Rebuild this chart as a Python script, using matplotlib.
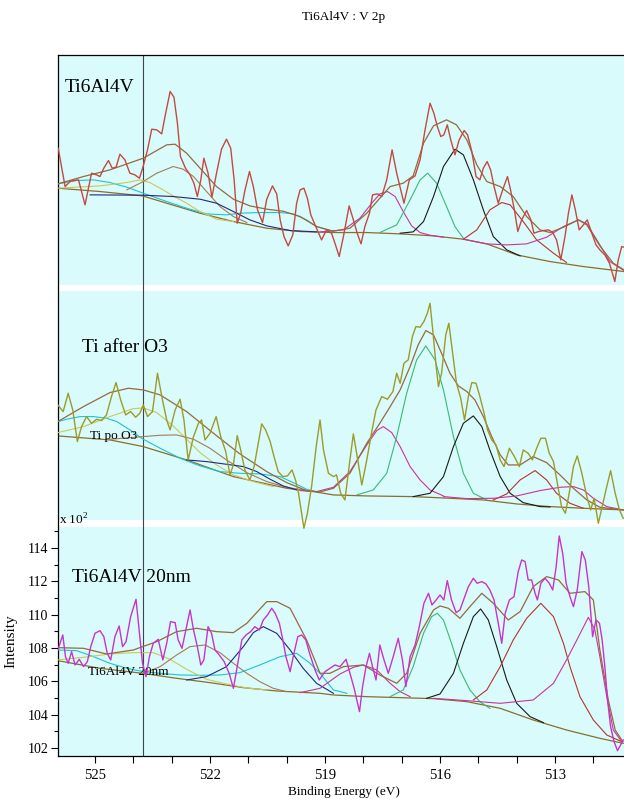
"""
Stacked V 2p XPS spectra (Ti6Al4V) with peak-fit components, CasaXPS style.
"""

import matplotlib

matplotlib.use("Agg")
import matplotlib.pyplot as plt
from matplotlib.ticker import FixedLocator

plt.rcParams["font.family"] = ["Liberation Serif", "DejaVu Serif"]
plt.rcParams["mathtext.fontset"] = "custom"
plt.rcParams["mathtext.rm"] = "Liberation Serif"

TITLE = "Ti6Al4V : V 2p"
XLABEL = "Binding Energy (eV)"
YLABEL = "Intensity"
SCALE_LABEL = r"x 10$^{\mathrm{2}}$"

X_MAJOR = [525, 522, 519, 516, 513]
X_MINOR = list(range(512, 527))
Y_MAJOR = [102, 104, 106, 108, 110, 112, 114]
Y_MINOR = [103, 105, 107, 109, 111, 113, 115]

MARKER_ENERGY = 523.75

PANEL_NAMES = ["Ti6Al4V", "Ti after O3", "Ti6Al4V 20nm"]
REGION_NAMES = ["", "Ti po O3", "Ti6Al4V 20nm"]

# ---------------- panel 1 : Ti6Al4V (binding energy eV, counts x100) ----------------
raw1 = [(525.96, 137.98), (525.78, 135.68), (525.65, 135.98), (525.55, 136.04), (525.43, 136.08),
        (525.26, 134.58), (525.09, 136.48), (524.96, 136.38), (524.87, 136.28), (524.77, 136.78),
        (524.65, 137.24), (524.55, 136.78), (524.45, 136.84), (524.35, 137.62), (524.22, 137.28),
        (524.09, 136.48), (523.96, 136.38), (523.84, 136.18), (523.74, 136.92), (523.63, 137.88),
        (523.52, 139.12), (523.39, 139.08), (523.26, 138.84), (523.16, 140.04), (523.04, 141.38),
        (522.94, 141.04), (522.85, 139.48), (522.77, 137.48), (522.64, 136.78), (522.52, 136.38),
        (522.42, 135.88), (522.33, 135.08), (522.24, 136.08), (522.16, 137.38), (522.05, 136.48),
        (521.95, 135.04), (521.83, 136.48), (521.70, 137.92), (521.57, 138.52), (521.46, 137.98),
        (521.37, 136.08), (521.29, 133.48), (521.20, 134.08), (521.09, 135.44), (520.97, 136.58),
        (520.87, 135.68), (520.76, 134.28), (520.63, 133.52), (520.52, 134.92), (520.37, 135.72),
        (520.26, 135.24), (520.17, 133.68), (520.07, 132.68), (519.96, 132.12), (519.84, 132.78),
        (519.74, 134.68), (519.65, 135.48), (519.55, 135.58), (519.46, 134.98), (519.37, 133.98),
        (519.26, 133.38), (519.09, 132.48), (518.96, 133.08), (518.83, 132.88), (518.74, 132.28),
        (518.63, 131.48), (518.52, 132.68), (518.37, 134.52), (518.26, 133.68), (518.16, 132.88),
        (518.06, 132.24), (517.96, 133.28), (517.84, 134.08), (517.76, 135.18), (517.63, 135.24),
        (517.52, 135.08), (517.39, 136.08), (517.25, 137.88), (517.13, 136.48), (516.94, 134.68),
        (516.80, 136.08), (516.65, 136.32), (516.52, 137.28), (516.39, 139.08), (516.26, 140.68),
        (516.16, 140.08), (516.07, 139.28), (515.98, 138.68), (515.90, 138.78), (515.81, 139.38),
        (515.72, 138.48), (515.61, 137.58), (515.50, 138.48), (515.37, 139.04), (515.28, 138.78),
        (515.17, 137.78), (515.06, 136.28), (514.96, 136.08), (514.87, 136.78), (514.77, 137.18),
        (514.68, 136.68), (514.59, 135.68), (514.48, 134.68), (514.35, 135.58), (514.24, 136.28),
        (514.16, 135.48), (514.06, 134.28), (513.97, 132.98), (513.87, 133.68), (513.74, 134.24),
        (513.63, 133.68), (513.55, 132.88), (513.43, 132.98), (513.30, 133.04), (513.17, 133.08),
        (513.06, 132.92), (512.96, 132.48), (512.85, 131.28), (512.74, 132.68), (512.65, 134.08),
        (512.56, 135.18), (512.47, 134.28), (512.37, 133.08), (512.26, 133.38), (512.16, 133.68),
        (512.04, 132.88), (511.93, 132.18), (511.83, 131.88), (511.70, 131.58), (511.58, 131.08),
        (511.44, 129.98), (511.35, 131.28), (511.26, 132.08), (511.20, 132.04)]
bg1 = [(525.97, 135.58), (524.87, 135.38), (523.76, 135.12), (523.13, 134.68), (522.26, 134.08),
       (521.39, 133.58), (520.52, 133.18), (519.65, 132.98), (518.78, 132.92), (517.91, 132.92),
       (517.04, 132.84), (516.17, 132.72), (515.39, 132.52), (514.78, 132.24), (514.00, 131.58),
       (513.13, 131.18), (512.26, 130.88), (511.20, 130.58)]
env1 = [(525.97, 135.84), (525.30, 136.28), (524.61, 136.68), (523.74, 137.38), (523.13, 138.18),
        (522.91, 138.22), (522.61, 137.68), (522.26, 136.78), (521.83, 135.68), (521.39, 134.92),
        (520.96, 134.52), (520.52, 134.32), (520.09, 134.20), (519.65, 133.88), (519.22, 133.28),
        (518.78, 133.00), (518.35, 133.18), (517.91, 134.08), (517.57, 134.98), (517.30, 135.68),
        (516.96, 135.88), (516.70, 136.32), (516.43, 138.28), (516.17, 139.32), (515.83, 139.68),
        (515.57, 139.38), (515.30, 138.48), (515.04, 136.98), (514.78, 135.98), (514.43, 135.68),
        (514.09, 135.08), (513.74, 133.88), (513.39, 133.08), (513.13, 132.92), (512.78, 133.24),
        (512.39, 133.68), (512.17, 133.38), (511.83, 132.12), (511.48, 131.08), (511.20, 130.68)]
p1_cyan = [(525.97, 135.84), (525.48, 136.04), (525.04, 136.08), (524.61, 135.92), (524.17, 135.64),
           (523.74, 135.28), (523.13, 134.78), (522.61, 134.38), (522.09, 134.04), (521.57, 133.98),
           (521.22, 134.08), (520.70, 134.12), (520.17, 134.12), (519.83, 134.04), (519.48, 133.68),
           (519.22, 133.28), (518.78, 132.98)]
p1_yellow = [(525.97, 135.58), (524.87, 135.72), (524.17, 135.92), (523.83, 136.08), (523.57, 135.92),
             (523.30, 135.58), (522.96, 135.12), (522.61, 134.68), (522.26, 134.18), (521.83, 133.72),
             (521.39, 133.58)]
p1_brown = [(524.17, 135.48), (523.74, 135.98), (523.39, 136.48), (522.96, 136.88), (522.70, 136.72),
            (522.43, 136.28), (522.09, 135.38), (521.74, 134.48), (521.39, 133.88), (521.04, 133.52)]
p1_navy = [(525.13, 135.18), (523.74, 135.16), (522.96, 135.08), (522.26, 134.92), (521.83, 134.68),
           (521.39, 134.18), (520.96, 133.68), (520.52, 133.32), (519.91, 133.04), (519.22, 132.96)]
p1_pink = [(519.13, 132.96), (518.52, 133.08), (518.09, 133.78), (517.78, 134.68), (517.57, 135.24),
           (517.37, 135.38), (517.17, 135.08), (516.96, 134.18), (516.74, 133.32), (516.52, 132.92),
           (516.26, 132.76), (515.91, 132.64)]
p1_green = [(517.57, 132.92), (517.13, 133.38), (516.78, 134.88), (516.52, 136.08), (516.32, 136.48),
            (516.09, 135.88), (515.83, 134.48), (515.61, 133.28), (515.39, 132.58)]
p1_black = [(517.04, 132.88), (516.70, 132.96), (516.43, 133.58), (516.17, 135.08), (515.91, 136.88),
            (515.61, 137.92), (515.39, 137.58), (515.13, 136.08), (514.87, 134.28), (514.61, 132.68),
            (514.26, 131.88), (513.91, 131.52)]
p1_red = [(515.39, 132.52), (515.04, 133.08), (514.70, 134.28), (514.39, 134.72), (514.17, 134.58),
          (513.83, 133.58), (513.48, 132.48), (513.04, 131.68), (512.70, 131.12)]
p1_magenta = [(515.39, 132.52), (514.78, 132.24), (514.26, 132.18), (513.74, 132.24), (513.22, 132.64),
              (512.78, 133.28), (512.39, 133.68), (512.17, 133.44), (511.91, 132.48), (511.57, 131.18),
              (511.20, 130.64)]

# ---------------- panel 2 : Ti after O3 ----------------
raw2 = [(525.97, 122.58), (525.83, 122.18), (525.70, 123.28), (525.58, 122.28), (525.46, 120.38),
        (525.35, 121.28), (525.22, 121.88), (525.09, 121.48), (524.96, 121.72), (524.83, 121.64),
        (524.70, 121.98), (524.57, 123.08), (524.45, 123.92), (524.33, 122.88), (524.20, 121.98),
        (524.07, 122.18), (523.94, 121.84), (523.83, 122.08), (523.74, 122.58), (523.63, 121.88),
        (523.50, 122.18), (523.37, 124.48), (523.24, 122.88), (523.13, 121.68), (523.04, 121.08),
        (522.91, 122.28), (522.78, 122.92), (522.68, 121.68), (522.57, 119.28), (522.43, 120.68),
        (522.30, 121.48), (522.22, 121.68), (522.13, 120.48), (522.00, 120.88), (521.84, 121.88),
        (521.72, 120.68), (521.59, 119.78), (521.48, 118.38), (521.39, 118.98), (521.29, 120.74),
        (521.20, 119.88), (521.09, 118.68), (520.96, 118.08), (520.85, 118.88), (520.74, 120.28),
        (520.65, 121.44), (520.55, 121.08), (520.43, 120.38), (520.33, 119.48), (520.22, 118.58),
        (520.10, 118.28), (519.98, 118.32), (519.86, 118.68), (519.77, 118.08), (519.69, 117.28),
        (519.61, 116.08), (519.55, 115.18), (519.46, 116.08), (519.35, 117.68), (519.23, 120.08),
        (519.13, 121.68), (519.04, 119.88), (518.91, 118.48), (518.78, 118.28), (518.70, 118.38),
        (518.59, 117.28), (518.48, 116.88), (518.35, 119.28), (518.26, 120.84), (518.16, 119.48),
        (518.04, 117.78), (517.91, 119.28), (517.78, 120.98), (517.67, 122.28), (517.52, 123.08),
        (517.37, 122.92), (517.23, 123.38), (517.13, 124.48), (517.04, 123.88), (516.94, 125.08),
        (516.83, 125.28), (516.72, 126.68), (516.63, 127.28), (516.52, 127.24), (516.42, 127.58),
        (516.33, 128.08), (516.26, 128.68), (516.19, 127.08), (516.10, 124.88), (516.04, 123.68),
        (515.96, 124.48), (515.85, 126.78), (515.77, 127.48), (515.67, 125.68), (515.57, 123.88),
        (515.46, 122.98), (515.36, 121.68), (515.26, 123.08), (515.17, 123.92), (515.06, 123.88),
        (514.96, 123.08), (514.85, 122.08), (514.76, 121.08), (514.65, 120.48), (514.54, 120.18),
        (514.43, 119.28), (514.33, 118.88), (514.19, 119.98), (514.06, 119.48), (513.93, 118.88),
        (513.83, 119.88), (513.70, 119.68), (513.59, 119.28), (513.48, 119.98), (513.37, 120.58),
        (513.25, 120.58), (513.15, 119.68), (513.04, 119.18), (512.94, 117.88), (512.83, 116.48),
        (512.73, 116.08), (512.63, 117.28), (512.52, 118.88), (512.42, 119.52), (512.30, 118.48),
        (512.17, 117.08), (512.07, 116.28), (511.98, 116.98), (511.87, 115.48), (511.77, 116.48),
        (511.65, 117.68), (511.55, 118.64), (511.43, 117.28), (511.32, 116.28), (511.22, 115.78)]
bg2 = [(525.97, 120.72), (524.61, 120.48), (523.74, 120.08), (522.61, 119.28), (521.39, 118.28),
       (520.00, 117.58), (519.30, 117.38), (518.78, 117.18), (517.91, 117.12), (516.70, 117.08),
       (515.74, 116.98), (514.87, 116.88), (514.00, 116.64), (513.13, 116.48), (512.26, 116.38),
       (511.22, 116.28)]
env2 = [(525.97, 121.58), (525.30, 122.48), (524.61, 123.32), (524.13, 123.58), (523.74, 123.48),
        (523.30, 123.18), (522.61, 122.18), (521.91, 120.88), (521.22, 119.64), (520.52, 118.58),
        (520.00, 117.92), (519.48, 117.44), (519.13, 117.36), (518.78, 117.58), (518.35, 118.48),
        (517.91, 120.28), (517.57, 121.48), (517.30, 122.48), (517.04, 123.48), (516.78, 124.88),
        (516.57, 126.18), (516.37, 127.04), (516.17, 126.78), (515.96, 125.68), (515.74, 124.48),
        (515.52, 123.72), (515.30, 123.38), (515.09, 122.88), (514.87, 121.88), (514.65, 120.68),
        (514.43, 119.58), (514.22, 118.98), (513.91, 118.98), (513.57, 119.48), (513.22, 119.12),
        (512.87, 118.38), (512.52, 117.58), (512.17, 116.88), (511.83, 116.44), (511.22, 116.28)]
p2_cyan = [(525.97, 121.58), (525.74, 121.72), (525.39, 121.88), (525.04, 121.88), (524.70, 121.78),
           (524.43, 121.58), (524.09, 121.08), (523.74, 120.52), (523.30, 119.98), (522.78, 119.38),
           (522.26, 118.92), (521.74, 118.58), (521.22, 118.48), (520.70, 118.44), (520.17, 118.28),
           (519.83, 117.92), (519.48, 117.52), (519.22, 117.36)]
p2_yellow = [(525.97, 120.92), (525.30, 121.28), (524.61, 121.88), (524.00, 122.36), (523.74, 122.40),
             (523.39, 122.12), (522.96, 121.32), (522.61, 120.52), (522.26, 119.72), (521.83, 118.98),
             (521.39, 118.38), (520.87, 117.98), (520.35, 117.68)]
p2_brown = [(524.61, 120.52), (523.74, 120.68), (523.30, 120.76), (522.87, 120.78), (522.43, 120.52),
            (522.00, 119.98), (521.57, 119.28), (521.04, 118.52), (520.52, 117.98), (520.00, 117.64),
            (519.48, 117.44)]
p2_navy = [(522.61, 119.28), (522.09, 119.18), (521.57, 119.02), (521.13, 118.88), (520.78, 118.58),
           (520.43, 118.12), (520.09, 117.72), (519.74, 117.48)]
p2_pink = [(519.65, 117.44), (519.22, 117.38), (518.78, 117.64), (518.35, 118.58), (517.91, 120.18),
           (517.65, 121.04), (517.48, 121.28), (517.26, 120.92), (517.04, 120.08), (516.78, 118.88),
           (516.52, 118.08), (516.26, 117.48), (515.91, 117.12)]
p2_green = [(518.17, 117.18), (517.74, 117.48), (517.39, 118.48), (517.13, 120.68), (516.87, 123.28),
            (516.61, 125.28), (516.37, 126.12), (516.13, 125.28), (515.91, 123.48), (515.65, 120.68),
            (515.39, 118.48), (515.13, 117.28), (514.78, 116.88)]
p2_black = [(516.70, 117.08), (516.26, 117.28), (515.91, 118.28), (515.65, 120.08), (515.39, 121.48),
            (515.13, 121.92), (514.91, 121.28), (514.70, 119.88), (514.43, 118.28), (514.17, 117.28),
            (513.83, 116.72), (513.39, 116.48), (513.13, 116.46)]
p2_red = [(514.61, 116.88), (514.26, 117.24), (513.91, 118.08), (513.52, 118.64), (513.22, 118.08),
          (512.96, 117.28), (512.61, 116.68), (512.26, 116.38)]
p2_magenta = [(515.91, 117.08), (515.30, 116.96), (514.61, 116.98), (514.00, 117.12), (513.39, 117.44),
              (512.87, 117.64), (512.52, 117.68), (512.26, 117.48), (512.00, 116.98), (511.65, 116.48),
              (511.22, 116.28)]

# ---------------- panel 3 : Ti6Al4V 20nm ----------------
raw3 = [(525.97, 107.88), (525.84, 108.78), (525.77, 107.48), (525.70, 107.08), (525.61, 107.78),
        (525.52, 106.98), (525.41, 107.32), (525.30, 106.88), (525.20, 107.18), (525.11, 108.08),
        (525.00, 108.88), (524.87, 109.04), (524.77, 108.68), (524.68, 107.68), (524.59, 107.28),
        (524.48, 108.68), (524.37, 109.32), (524.28, 108.08), (524.19, 108.38), (524.07, 109.88),
        (523.93, 110.92), (523.84, 108.88), (523.76, 107.08), (523.67, 106.28), (523.58, 107.48),
        (523.48, 108.28), (523.35, 108.52), (523.23, 107.28), (523.13, 108.28), (523.03, 109.58),
        (522.91, 109.52), (522.83, 108.48), (522.73, 107.98), (522.63, 109.08), (522.52, 110.28),
        (522.43, 109.08), (522.33, 108.08), (522.24, 106.98), (522.16, 107.28), (522.05, 109.28),
        (521.96, 108.88), (521.87, 107.88), (521.76, 107.58), (521.63, 107.18), (521.50, 106.48),
        (521.39, 105.58), (521.29, 106.88), (521.17, 108.48), (521.06, 108.78), (520.94, 108.98),
        (520.83, 109.28), (520.71, 109.08), (520.61, 109.68), (520.50, 109.98), (520.39, 110.38),
        (520.30, 110.08), (520.19, 109.48), (520.10, 108.48), (520.02, 107.48), (519.91, 106.58),
        (519.81, 107.68), (519.71, 108.68), (519.61, 108.78), (519.50, 108.48), (519.39, 107.58),
        (519.26, 106.68), (519.15, 106.08), (519.00, 106.58), (518.87, 106.78), (518.74, 106.98),
        (518.61, 106.88), (518.45, 107.32), (518.35, 106.48), (518.24, 105.58), (518.10, 104.18),
        (518.02, 105.68), (517.93, 106.88), (517.84, 107.68), (517.76, 106.88), (517.67, 106.08),
        (517.57, 108.18), (517.46, 107.28), (517.35, 106.48), (517.22, 107.48), (517.09, 108.58),
        (516.98, 107.28), (516.89, 105.68), (516.78, 107.48), (516.65, 108.18), (516.54, 109.28),
        (516.42, 110.68), (516.30, 111.28), (516.21, 110.58), (516.10, 110.88), (516.00, 111.18),
        (515.90, 110.88), (515.81, 112.04), (515.70, 110.88), (515.58, 110.12), (515.48, 110.28),
        (515.37, 110.98), (515.26, 111.68), (515.13, 112.18), (515.03, 111.88), (514.91, 111.98),
        (514.80, 111.84), (514.70, 111.48), (514.59, 110.88), (514.48, 109.48), (514.39, 108.28),
        (514.30, 110.08), (514.19, 110.88), (514.07, 111.08), (513.96, 112.58), (513.87, 113.28),
        (513.78, 113.18), (513.70, 112.08), (513.61, 112.08), (513.52, 111.28), (513.46, 110.88),
        (513.37, 111.88), (513.26, 112.18), (513.15, 111.88), (513.06, 111.48), (512.97, 112.88),
        (512.89, 114.72), (512.80, 113.68), (512.71, 111.88), (512.61, 111.08), (512.52, 110.48),
        (512.42, 111.48), (512.30, 113.78), (512.21, 113.28), (512.12, 111.68), (512.02, 108.68),
        (511.93, 109.68), (511.84, 109.48), (511.77, 108.48), (511.70, 106.88), (511.63, 104.88),
        (511.55, 103.28), (511.46, 102.38), (511.37, 101.84), (511.29, 102.18), (511.22, 102.48)]
bg3 = [(525.97, 107.24), (524.87, 106.78), (523.76, 106.48), (522.87, 106.18), (522.00, 105.92),
       (521.13, 105.62), (520.26, 105.42), (519.13, 105.28), (518.78, 105.18), (517.91, 105.08),
       (517.04, 105.02), (516.17, 104.96), (515.30, 104.78), (514.43, 104.38), (513.57, 103.68),
       (512.70, 103.08), (511.83, 102.58), (511.22, 102.28)]
env3 = [(525.97, 108.02), (525.30, 107.98), (524.70, 107.64), (524.00, 107.88), (523.39, 108.38),
        (522.87, 108.98), (522.35, 109.18), (521.83, 108.98), (521.39, 108.92), (521.04, 109.48),
        (520.52, 110.78), (520.26, 110.78), (519.91, 110.38), (519.48, 108.48), (519.13, 106.48),
        (518.87, 106.48), (518.52, 106.88), (518.00, 106.98), (517.57, 106.38), (517.13, 105.88),
        (516.87, 106.48), (516.52, 108.88), (516.17, 110.28), (516.00, 110.52), (515.78, 110.38),
        (515.48, 109.78), (515.22, 110.48), (514.91, 111.28), (514.61, 110.68), (514.22, 109.68),
        (513.91, 110.18), (513.57, 111.68), (513.22, 112.28), (512.91, 112.08), (512.61, 111.28),
        (512.22, 111.38), (512.00, 110.88), (511.83, 107.88), (511.61, 104.88), (511.43, 103.08),
        (511.23, 102.38)]
p3_cyan = [(525.97, 107.88), (525.48, 107.84), (525.04, 107.48), (524.61, 107.08), (524.17, 106.78),
           (523.74, 106.58), (523.30, 106.48), (522.78, 106.38), (522.26, 106.36), (521.74, 106.38),
           (521.22, 106.52), (520.70, 106.98), (520.17, 107.48), (519.74, 107.68), (519.39, 107.08),
           (519.13, 106.48), (518.78, 105.48), (518.43, 105.28)]
p3_yellow = [(525.97, 107.28), (525.30, 107.44), (524.61, 107.64), (524.00, 107.72), (523.48, 107.72),
             (523.04, 107.32), (522.61, 106.72), (522.09, 106.12), (521.57, 105.84), (521.04, 105.60),
             (520.52, 105.48)]
p3_brown = [(523.74, 106.48), (523.30, 106.88), (522.87, 107.58), (522.52, 108.08), (522.13, 108.18),
            (521.74, 107.72), (521.39, 107.08), (521.04, 106.48), (520.70, 105.98), (520.35, 105.58),
            (520.00, 105.38)]
p3_navy = [(522.61, 106.08), (522.09, 106.28), (521.57, 106.88), (521.13, 108.08), (520.87, 108.92),
           (520.61, 109.28), (520.26, 108.88), (519.91, 107.88), (519.57, 106.78), (519.22, 105.88),
           (518.78, 105.28)]
p3_pink = [(519.65, 105.32), (519.13, 105.58), (518.61, 106.44), (518.26, 106.84), (518.00, 106.98),
           (517.65, 106.68), (517.30, 105.88), (517.04, 105.38), (516.78, 105.08)]
p3_green = [(517.30, 105.08), (516.96, 105.48), (516.70, 106.88), (516.43, 108.88), (516.22, 109.88),
            (516.07, 110.08), (515.91, 109.68), (515.70, 108.28), (515.48, 106.68), (515.22, 105.48),
            (514.96, 104.78), (514.70, 104.38)]
p3_black = [(516.35, 104.98), (516.00, 105.24), (515.65, 106.48), (515.39, 108.28), (515.13, 109.88),
            (514.94, 110.34), (514.74, 109.68), (514.52, 108.08), (514.26, 106.08), (514.00, 104.68),
            (513.65, 103.88), (513.30, 103.52)]
p3_red = [(515.13, 104.88), (514.78, 105.48), (514.43, 106.88), (514.09, 108.48), (513.74, 109.78),
          (513.37, 110.68), (513.04, 109.88), (512.78, 108.28), (512.61, 106.88), (512.35, 105.08),
          (512.00, 103.68), (511.65, 102.78), (511.26, 102.38)]
p3_magenta = [(516.17, 104.98), (515.30, 104.84), (514.43, 104.68), (513.57, 104.88), (513.04, 105.88),
              (512.70, 107.28), (512.43, 108.48), (512.13, 109.84), (511.96, 109.08), (511.83, 107.48),
              (511.65, 105.08), (511.48, 103.08), (511.26, 102.38)]

# colours
BG_COLOR = "#d9fbfb"
C_CYAN = "#1fc3cf"
C_YELLOW = "#c9c95c"
C_BROWN = "#a67c52"
C_NAVY = "#26267e"
C_PINK = "#cc3399"
C_GREEN = "#3cb878"
C_BLACK = "#1a1a1a"
C_RED = "#b5352a"
C_ENV = "#966a3c"
C_BASE = "#8c6d2c"
RAW_COLORS = ["#c24a42", "#9c9b2a", "#c833c8"]

panels = [
    (raw1, bg1, env1, [(p1_cyan, C_CYAN), (p1_yellow, C_YELLOW), (p1_brown, C_BROWN), (p1_navy, C_NAVY),
                       (p1_pink, C_PINK), (p1_green, C_GREEN), (p1_black, C_BLACK), (p1_red, C_RED),
                       (p1_magenta, C_PINK)]),
    (raw2, bg2, env2, [(p2_cyan, C_CYAN), (p2_yellow, C_YELLOW), (p2_brown, C_BROWN), (p2_navy, C_NAVY),
                       (p2_pink, C_PINK), (p2_green, C_GREEN), (p2_black, C_BLACK), (p2_red, C_RED),
                       (p2_magenta, C_PINK)]),
    (raw3, bg3, env3, [(p3_cyan, C_CYAN), (p3_yellow, C_YELLOW), (p3_brown, C_BROWN), (p3_navy, C_NAVY),
                       (p3_pink, C_PINK), (p3_green, C_GREEN), (p3_black, C_BLACK), (p3_red, C_RED),
                       (p3_magenta, C_PINK)]),
]


def unzip(points):
    return [p[0] for p in points], [p[1] for p in points]


fig = plt.figure(figsize=(6.24, 8.01), dpi=100)
ax = fig.add_axes([58 / 624, 45 / 801, 571 / 624, 701 / 801])
ax.set_facecolor(BG_COLOR)
ax.set_xlim(525.965, 511.07)
ax.set_ylim(101.52, 143.57)

# white gaps between the stacked spectra
ax.axhspan(129.42, 129.80, color="white", lw=0, zorder=0.5)
ax.axhspan(115.26, 115.68, color="white", lw=0, zorder=0.5)

ax.axvline(MARKER_ENERGY, color="#3c4450", lw=0.8, zorder=1)

for i, (raw, bg, env, comps) in enumerate(panels):
    ax.plot(*unzip(bg), color=C_BASE, lw=0.9, zorder=2)
    for pts, col in comps:
        ax.plot(*unzip(pts), color=col, lw=0.8, zorder=3)
    ax.plot(*unzip(env), color=C_ENV, lw=0.9, zorder=4)
    ax.plot(*unzip(raw), color=RAW_COLORS[i], lw=1.0, zorder=5)

# panel annotations
ax.text(525.78, 141.6, PANEL_NAMES[0], fontsize=14, va="center", ha="left")
ax.text(525.34, 126.0, PANEL_NAMES[1], fontsize=14, va="center", ha="left")
ax.text(525.60, 112.2, PANEL_NAMES[2], fontsize=14, va="center", ha="left")
ax.text(525.13, 120.72, REGION_NAMES[1], fontsize=9.5, va="center", ha="left")
ax.text(525.18, 106.56, REGION_NAMES[2], fontsize=9.5, va="center", ha="left")
ax.text(525.95, 115.25, SCALE_LABEL, fontsize=9.5, va="bottom", ha="left")

# axes & ticks
ax.xaxis.set_major_locator(FixedLocator(X_MAJOR))
ax.xaxis.set_minor_locator(FixedLocator(X_MINOR))
ax.yaxis.set_major_locator(FixedLocator(Y_MAJOR))
ax.yaxis.set_minor_locator(FixedLocator(Y_MINOR))
ax.tick_params(axis="both", which="major", direction="out", length=5, width=0.8)
ax.tick_params(axis="x", which="major", labelsize=10.5, pad=4.5)
ax.tick_params(axis="y", which="major", labelsize=10, pad=2)
ax.tick_params(axis="both", which="minor", direction="out", length=3.2, width=0.8)
ax.tick_params(axis="x", which="minor", length=5)
ax.spines["right"].set_visible(False)
for side in ("left", "bottom", "top"):
    ax.spines[side].set_linewidth(0.9)

ax.set_xlabel(XLABEL, fontsize=9.5)
ax.xaxis.set_label_coords(0.5, -0.043)
ax.set_ylabel(YLABEL, fontsize=11)
ax.yaxis.set_label_coords(-0.071, 0.164)
ax.set_title(TITLE, fontsize=9.5, pad=25)

fig.savefig("out.png", dpi=100)
